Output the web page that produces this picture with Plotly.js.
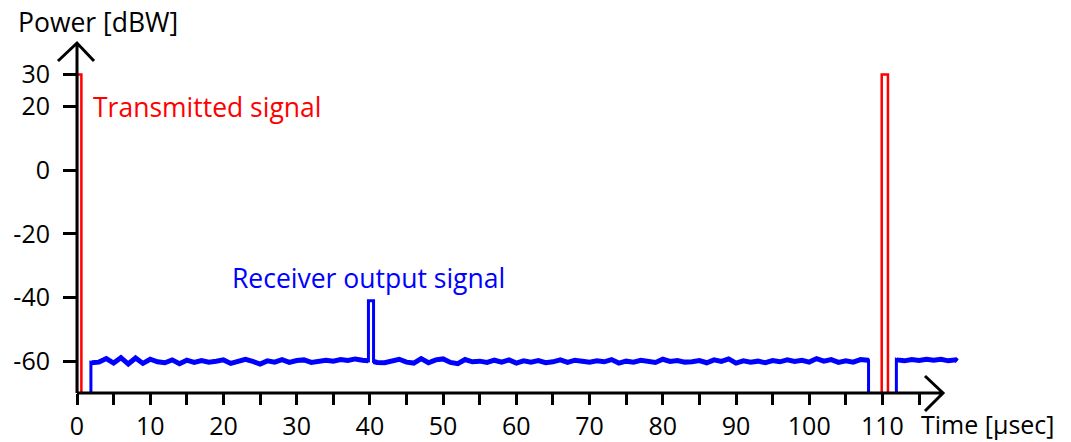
<!DOCTYPE html>
<html>
<head>
<meta charset="utf-8">
<script src="https://cdn.plot.ly/plotly-3.0.1.min.js"></script>
<style>html,body{margin:0;padding:0;background:#fff;}#chart{width:1071px;height:442px;}</style>
</head>
<body>
<div id="chart"></div>
<script>
// ---- data ----
var txTime1 = [0, 0, 0.6, 0.6];
var txPower1 = [-70, 30, 30, -70];
var txTime2 = [109.9, 109.9, 110.75, 110.75];
var txPower2 = [-70, 30, 30, -70];

var rxTimeA = [1.9, 1.9, 2, 3, 4, 5, 6, 7, 8, 9, 10, 11, 12, 13, 14, 15, 16, 17, 18, 19, 20, 21,
  22, 23, 24, 25, 26, 27, 28, 29, 30, 31, 32, 33, 34, 35, 36, 37, 38, 39, 39.8, 39.8, 40.5, 40.5, 41,
  42, 43, 44, 45, 46, 47, 48, 49, 50, 51, 52, 53, 54, 55, 56, 57, 58, 59, 60, 61, 62,
  63, 64, 65, 66, 67, 68, 69, 70, 71, 72, 73, 74, 75, 76, 77, 78, 79, 80, 81, 82, 83,
  84, 85, 86, 87, 88, 89, 90, 91, 92, 93, 94, 95, 96, 97, 98, 99, 100, 101, 102, 103, 104, 105, 106, 107, 108, 108.1, 108.1];
var rxPowerA = [-70, -60.4, -60.5, -60.3, -59.2, -60.6, -58.9, -60.9, -59.0, -60.7, -59.4, -60.2, -60.5, -59.6, -60.8, -59.7, -60.4, -59.8, -60.3, -60.0, -59.6, -60.7,
  -60.2, -59.4, -60.1, -60.9, -59.9, -60.3, -59.5, -60.4, -59.8, -59.6, -60.4, -60.1, -59.7, -60.0, -59.5, -59.8, -59.3, -59.7, -59.9, -41, -41, -60.1, -60.4,
  -60.5, -60.0, -59.4, -60.3, -60.6, -59.2, -60.5, -59.6, -59.3, -60.4, -60.8, -59.5, -60.2, -60.0, -60.4, -59.7, -60.3, -59.6, -60.6, -59.9, -60.3,
  -59.8, -60.5, -60.2, -59.6, -60.4, -59.7, -60.0, -60.3, -59.9, -60.2, -59.5, -60.6, -60.0, -60.3, -59.7, -59.9, -60.4, -59.4, -60.1, -59.8, -60.3,
  -60.2, -59.8, -60.5, -59.6, -60.1, -59.3, -60.6, -59.9, -60.3, -60.0, -60.5, -59.8, -60.2, -59.6, -60.1, -59.7, -60.3, -59.2, -60.0, -59.5, -60.4, -59.9, -60.3, -59.5, -59.7, -59.8, -70];

var rxTimeB = [111.9, 111.9, 112, 113, 114, 115, 116, 117, 118, 119, 120, 120.2];
var rxPowerB = [-70, -59.5, -59.6, -59.9, -59.5, -59.8, -59.4, -59.7, -59.4, -59.9, -59.6, -60.0];

var xTickVals = [0, 5, 10, 15, 20, 25, 30, 35, 40, 45, 50, 55, 60, 65, 70, 75, 80, 85, 90, 95, 100, 105, 110, 115];
var xTickText = ['0', '', '10', '', '20', '', '30', '', '40', '', '50', '', '60', '', '70', '', '80', '', '90', '', '100', '', '110', ''];
var yTickVals = [30, 20, 0, -20, -40, -60];
var yTickText = ['30', '20', '0', '-20', '-40', '-60'];

var FONT = '"Open Sans", "Liberation Sans", sans-serif';

var traces = [
  {x: txTime1, y: txPower1, mode: 'lines', line: {color: '#ff0000', width: 2.5}, hoverinfo: 'skip'},
  {x: txTime2, y: txPower2, mode: 'lines', line: {color: '#ff0000', width: 2.5}, hoverinfo: 'skip'},
  {x: rxTimeA, y: rxPowerA, mode: 'lines', line: {color: '#0000ff', width: 3}, hoverinfo: 'skip'},
  {x: rxTimeB, y: rxPowerB, mode: 'lines', line: {color: '#0000ff', width: 3}, hoverinfo: 'skip'},
  // thicker overlay for the noisy floor segments (same data, edges excluded)
  {x: rxTimeA.slice(1, 41), y: rxPowerA.slice(1, 41), mode: 'lines', line: {color: '#0000ff', width: 5}, hoverinfo: 'skip'},
  {x: rxTimeA.slice(43, rxTimeA.length - 1), y: rxPowerA.slice(43, rxPowerA.length - 1), mode: 'lines', line: {color: '#0000ff', width: 5}, hoverinfo: 'skip'},
  {x: rxTimeB.slice(1), y: rxPowerB.slice(1), mode: 'lines', line: {color: '#0000ff', width: 5}, hoverinfo: 'skip'}
];

var layout = {
  width: 1071, height: 442,
  margin: {l: 77, r: 108, t: 38, b: 49, pad: 0},
  paper_bgcolor: '#ffffff', plot_bgcolor: '#ffffff',
  showlegend: false,
  font: {family: FONT, color: '#000000'},
  xaxis: {
    range: [0, 121], showgrid: false, zeroline: false, showline: false,
    tickmode: 'array', tickvals: xTickVals, ticktext: xTickText,
    ticks: 'outside', ticklen: 11, tickwidth: 3, tickcolor: '#000000',
    tickfont: {family: FONT, size: 25, color: '#000000'}
  },
  yaxis: {
    range: [-70, 41.5], showgrid: false, zeroline: false, showline: false,
    tickmode: 'array', tickvals: yTickVals, ticktext: yTickText,
    ticks: 'outside', ticklen: 13, tickwidth: 3, tickcolor: '#000000',
    ticklabelstandoff: 8,
    tickfont: {family: FONT, size: 25, color: '#000000'}
  },
  shapes: [
    {type: 'path', xref: 'paper', yref: 'paper', xsizemode: 'pixel', ysizemode: 'pixel',
     xanchor: 0, yanchor: 0, path: 'M 0,0 L 866,0 M 848,17 L 866,0 L 848,-18',
     line: {color: '#000000', width: 3}, layer: 'above'},
    {type: 'path', xref: 'paper', yref: 'paper', xsizemode: 'pixel', ysizemode: 'pixel',
     xanchor: 0, yanchor: 0, path: 'M 0,0 L 0,350 M -19,332 L 0,350 L 17,332',
     line: {color: '#000000', width: 3}, layer: 'above'}
  ],
  annotations: [
    {text: 'Transmitted signal', xref: 'x', yref: 'y', x: 1.9, y: 19.8, xanchor: 'left', yanchor: 'middle',
     showarrow: false, font: {family: FONT, size: 26.5, color: '#ff0000'}},
    {text: 'Receiver output signal', xref: 'x', yref: 'y', x: 20.9, y: -33.9, xanchor: 'left', yanchor: 'middle',
     showarrow: false, font: {family: FONT, size: 26.5, color: '#0000ff'}},
    {text: 'Power [dBW]', xref: 'paper', yref: 'paper', x: -0.0688, y: 1.045, xanchor: 'left', yanchor: 'middle',
     showarrow: false, font: {family: FONT, size: 26.5, color: '#000000'}},
    {text: 'Time [\u03bcsec]', xref: 'paper', yref: 'paper', x: 0.951, y: -0.087, xanchor: 'left', yanchor: 'middle',
     borderpad: 0, showarrow: false, font: {family: FONT, size: 25, color: '#000000'}}
  ]
};

Plotly.newPlot('chart', traces, layout, {staticPlot: true, displayModeBar: false});
</script>
</body>
</html>
